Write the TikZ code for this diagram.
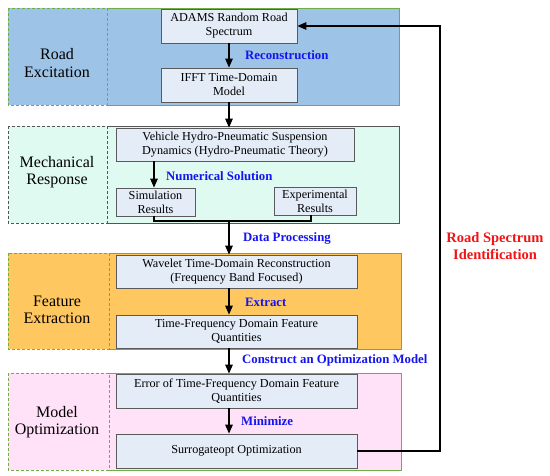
\documentclass[tikz,border=0pt]{standalone}
\usepackage{fontspec}
\setmainfont{Liberation Serif}
\usetikzlibrary{arrows.meta}
\definecolor{pblue}{HTML}{9DC3E6}
\definecolor{pmint}{HTML}{DFFAF0}
\definecolor{porange}{HTML}{FFC75F}
\definecolor{ppink}{HTML}{FFE1F8}
\definecolor{boxfill}{HTML}{E3ECF7}
\definecolor{boxline}{HTML}{5A5A5A}
\definecolor{pgreen}{HTML}{70AD47}
\definecolor{pgray}{HTML}{555555}
\definecolor{lblue}{HTML}{1414F0}
\definecolor{lred}{HTML}{F01414}
\begin{document}
\begin{tikzpicture}[x=1pt,y=-1pt,
 box/.style={draw=boxline,fill=boxfill,line width=0.8pt,inner sep=0pt,align=center,font=\fontsize{12.2}{14}\selectfont},
 side/.style={align=center,inner sep=0pt,font=\fontsize{16}{17.5}\selectfont},
 act/.style={anchor=west,text=lblue,inner sep=0pt,font=\bfseries\fontsize{12.8}{14}\selectfont},
 flow/.style={line width=1.4pt,-{Triangle[length=9pt,width=7.5pt]}},
 link/.style={line width=1.4pt},
 solidb/.style={line width=0.8pt},
 dashb/.style={line width=0.7pt,densely dashed}]
\useasboundingbox (0,0) rectangle (550,476);
% panels
\fill[pblue] (8,8) rectangle (399,105);
\draw[pgreen,solidb] (107,8) -- (399,8) -- (399,105) -- (107,105);
\draw[pgreen,dashb] (8,8) rectangle (107,105);
\fill[pmint] (8,126) rectangle (399,223);
\draw[pgray,solidb] (107,126) -- (399,126) -- (399,223) -- (107,223);
\draw[pgray,dashb] (8,126) rectangle (107,223);
\fill[porange] (8,253) rectangle (401,349);
\draw[pgreen,solidb] (109,253) -- (401,253) -- (401,349) -- (109,349);
\draw[pgreen,dashb] (8,253) rectangle (109,349);
\fill[ppink] (8,373) rectangle (401,470);
\draw[pgreen,solidb] (109,373) -- (401,373) -- (401,470) -- (109,470);
\draw[pgreen,dashb] (8,373) rectangle (109,470);
% side labels
\node[side] (l1) at (57,63) {Road\\Excitation};
\node[side] (l2) at (57,172) {Mechanical\\Response};
\node[side] (l3) at (57,310) {Feature\\Extraction};
\node[side] (l4) at (57,422) {Model\\Optimization};
% boxes
\node[box,minimum width=136pt,minimum height=34pt] (adams) at (229,26) {ADAMS Random Road\\Spectrum};
\node[box,minimum width=136pt,minimum height=34pt] (ifft) at (229,85) {IFFT Time-Domain\\Model};
\node[box,minimum width=238pt,minimum height=33pt] (veh) at (235,144.5) {Vehicle Hydro-Pneumatic Suspension\\Dynamics (Hydro-Pneumatic Theory)};
\node[box,minimum width=79pt,minimum height=28pt] (sim) at (155.5,202) {Simulation\\Results};
\node[box,minimum width=82pt,minimum height=28pt] (exp) at (315,201) {Experimental\\Results};
\node[box,minimum width=241pt,minimum height=33pt] (wave) at (236.5,271.5) {Wavelet Time-Domain Reconstruction\\(Frequency Band Focused)};
\node[box,minimum width=241pt,minimum height=33pt] (tf) at (236.5,331.5) {Time-Frequency Domain Feature\\Quantities};
\node[box,minimum width=241pt,minimum height=34pt] (err) at (236.5,391) {Error of Time-Frequency Domain Feature\\Quantities};
\node[box,minimum width=241pt,minimum height=34pt] (sur) at (236.5,451) {Surrogateopt Optimization};
% action labels
\node[act] (a1) at (245,55) {Reconstruction};
\node[act] (a2) at (166,176) {Numerical Solution};
\node[act] (a3) at (243,238) {Data Processing};
\node[act] (a4) at (245,302) {Extract};
\node[act] (a5) at (242,360) {Construct an Optimization Model};
\node[act] (a6) at (241,421) {Minimize};
\node[align=center,text=lred,inner sep=0pt,font=\bfseries\fontsize{14.5}{16.5}\selectfont] (rsi) at (495,246) {Road Spectrum\\Identification};
% connectors
\coordinate (ax) at (229,0);
\coordinate (j) at (229,221);
\coordinate (fb) at (440,0);
\draw[flow] (adams.south) -- (ifft.north);
\draw[flow] (ifft.south) -- (ifft.south |- veh.north);
\draw[flow] ([xshift=-1.5pt]sim.north |- veh.south) -- ([xshift=-1.5pt]sim.north);
\draw[link] ([xshift=-1.5pt]sim.south) |- (j) -| ([xshift=-4pt]exp.south);
\draw[flow] (j) -- (j |- wave.north);
\draw[flow] (ax |- wave.south) -- (ax |- tf.north);
\draw[flow] (ax |- tf.south) -- (ax |- err.north);
\draw[flow] (ax |- err.south) -- (ax |- sur.north);
\draw[flow] (sur.east) -| (fb |- adams.east) -- (adams.east);
\end{tikzpicture}
\end{document}
